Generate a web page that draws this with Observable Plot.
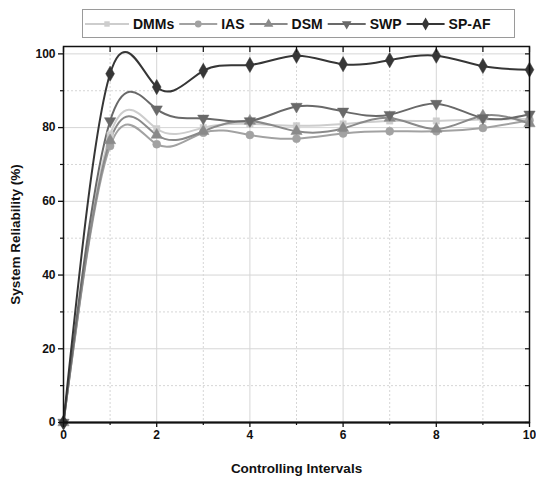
<!DOCTYPE html>
<html>
<head>
<meta charset="utf-8">
<script src="https://cdn.jsdelivr.net/npm/d3@7"></script>
<script src="https://cdn.jsdelivr.net/npm/@observablehq/plot@0.6"></script>
<style>
  html, body { margin: 0; padding: 0; background: #fff; }
  #wrap { width: 536px; font-family: "Liberation Sans", Arial, sans-serif; }
  #legend { height: 40px; position: relative; }
  #legend svg { display: block; }
</style>
</head>
<body>
<div id="wrap">
  <div id="legend"></div>
  <div id="chart"></div>
</div>
<script>
// ---- data ----
const intervals = [0, 1, 2, 3, 4, 5, 6, 7, 8, 9, 10];
const DMMs = [0, 78, 79.7, 80, 81, 80.5, 81, 81.8, 81.8, 82.2, 82.3];
const IAS  = [0, 75, 75.5, 78.6, 78, 77, 78.4, 79, 79, 79.9, 82];
const DSM  = [0, 76.5, 78, 79, 81.8, 79, 79.8, 82.6, 79.6, 83.2, 81.1];
const SWP  = [0, 81.8, 85, 82.5, 81.8, 85.7, 84.4, 83.5, 86.5, 82.6, 83.6];
const SPAF = [0, 94.6, 91, 95.4, 97, 99.5, 97.2, 98.3, 99.5, 96.7, 95.7];
const seriesNames = ["DMMs", "IAS", "DSM", "SWP", "SP-AF"];
const seriesValues = [DMMs, IAS, DSM, SWP, SPAF];
const xMajorTicks = [0, 2, 4, 6, 8, 10];
const xMinorTicks = [1, 3, 5, 7, 9];
const yMajorTicks = [0, 20, 40, 60, 80, 100];
const yMinorTicks = [10, 30, 50, 70, 90];

// ---- styles ----
const colors = ["#cdcdcd", "#a2a2a2", "#8a8a8a", "#696969", "#363636"];
const triangleDown = {
  draw(context, size) {
    const s3 = Math.sqrt(3);
    const y = -Math.sqrt(size / (s3 * 3));
    context.moveTo(0, -y * 2);
    context.lineTo(-s3 * y, y);
    context.lineTo(s3 * y, y);
    context.closePath();
  }
};
const symbols = [d3.symbolSquare, d3.symbolCircle, d3.symbolTriangle, triangleDown, d3.symbolDiamond];
const radii = [3.6, 4, 4.2, 4.2, 4.6];

const rows = seriesNames.map((name, i) => intervals.map((x, j) => ({series: name, x, y: seriesValues[i][j]})));

const font = "Liberation Sans, Arial, sans-serif";

const marks = [
  Plot.gridX(xMajorTicks.slice(1, -1), {stroke: "#d6d6d6", strokeOpacity: 1, strokeWidth: 1}),
  Plot.gridX(xMinorTicks, {stroke: "#d6d6d6", strokeOpacity: 1, strokeWidth: 1, strokeDasharray: "2,2"}),
  Plot.gridY(yMajorTicks.slice(1), {stroke: "#d6d6d6", strokeOpacity: 1, strokeWidth: 1}),
  Plot.gridY(yMinorTicks, {stroke: "#d6d6d6", strokeOpacity: 1, strokeWidth: 1, strokeDasharray: "2,2"}),
];
rows.forEach((data, i) => {
  marks.push(Plot.line(data, {x: "x", y: "y", stroke: colors[i], strokeWidth: 2, curve: "natural"}));
});
rows.forEach((data, i) => {
  marks.push(Plot.dot(data, {x: "x", y: "y", fill: colors[i], stroke: colors[i], strokeWidth: 0.5, symbol: symbols[i], r: radii[i]}));
});
marks.push(
  Plot.frame({stroke: "#111", strokeWidth: 1.5}),
  Plot.axisX({ticks: xMajorTicks, tickSize: 5, tickPadding: 3, stroke: "#111", strokeWidth: 1.3, fontSize: 12, fontWeight: "bold", fill: "#111", label: null}),
  Plot.axisX({ticks: [], tickSize: 0, fontSize: 13.5, fontWeight: "bold", fill: "#111",
    label: "Controlling Intervals", labelAnchor: "center", labelArrow: "none", labelOffset: 50}),
  Plot.axisX({ticks: xMinorTicks, tickSize: 3, text: null, label: null, stroke: "#111", strokeWidth: 1.2}),
  Plot.axisX({anchor: "top", ticks: intervals, tickSize: 5, dy: 5, text: null, label: null, stroke: "#111", strokeWidth: 1.2}),
  Plot.axisY({ticks: yMajorTicks, tickSize: 5, tickPadding: 3, stroke: "#111", strokeWidth: 1.3, fontSize: 12, fontWeight: "bold", fill: "#111", label: null}),
  Plot.axisY({ticks: [], tickSize: 0, fontSize: 13.5, fontWeight: "bold", fill: "#111",
    label: "System Reliability (%)", labelAnchor: "center", labelArrow: "none", labelOffset: 53}),
  Plot.axisY({ticks: yMinorTicks, tickSize: 3, text: null, label: null, stroke: "#111", strokeWidth: 1.2}),
  Plot.axisY({anchor: "right", ticks: yMajorTicks.concat(yMinorTicks), tickSize: 5, dx: -5, text: null, label: null, stroke: "#111", strokeWidth: 1.2}),
  Plot.ruleY([0], {stroke: "#111", strokeWidth: 2})
);

const chart = Plot.plot({
  width: 536,
  height: 440,
  marginLeft: 63,
  marginRight: 7,
  marginTop: 6,
  marginBottom: 58,
  style: {fontFamily: font, background: "#fff", overflow: "visible"},
  x: {domain: [0, 10]},
  y: {domain: [0, 102]},
  marks
});
document.getElementById("chart").appendChild(chart);

// ---- legend ----
const ns = "http://www.w3.org/2000/svg";
const lg = document.createElementNS(ns, "svg");
lg.setAttribute("width", 536);
lg.setAttribute("height", 40);
document.getElementById("legend").appendChild(lg);
const box = document.createElementNS(ns, "rect");
box.setAttribute("x", 82.5); box.setAttribute("y", 9.5);
box.setAttribute("width", 432); box.setAttribute("height", 28);
box.setAttribute("fill", "#fff"); box.setAttribute("stroke", "#9a9a9a");
lg.appendChild(box);
let cx = 85;
seriesNames.forEach((name, i) => {
  const lineLen = i === 0 ? 44 : 38;
  const ln = document.createElementNS(ns, "line");
  ln.setAttribute("x1", cx); ln.setAttribute("x2", cx + lineLen);
  ln.setAttribute("y1", 24); ln.setAttribute("y2", 24);
  ln.setAttribute("stroke", colors[i]); ln.setAttribute("stroke-width", 2);
  lg.appendChild(ln);
  const p = document.createElementNS(ns, "path");
  const r = radii[i] * 0.85;
  p.setAttribute("d", d3.symbol(symbols[i], Math.PI * r * r)());
  p.setAttribute("transform", `translate(${cx + lineLen / 2},24)`);
  p.setAttribute("fill", colors[i]);
  lg.appendChild(p);
  const t = document.createElementNS(ns, "text");
  t.setAttribute("x", cx + lineLen + 4);
  t.setAttribute("y", 29);
  t.setAttribute("font-family", font);
  t.setAttribute("font-size", 14);
  t.setAttribute("font-weight", "bold");
  t.setAttribute("fill", "#111");
  t.textContent = name;
  lg.appendChild(t);
  cx = cx + lineLen + 4 + t.getComputedTextLength() + 5;
});
</script>
</body>
</html>
